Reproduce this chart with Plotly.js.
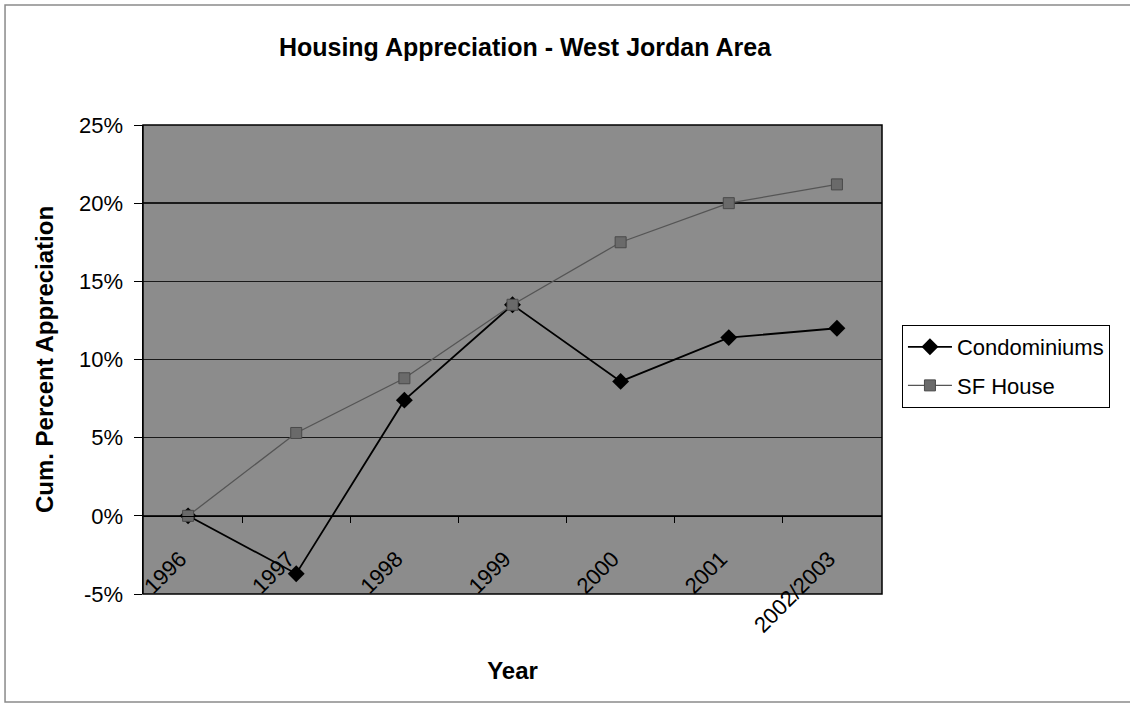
<!DOCTYPE html>
<html>
<head>
<meta charset="utf-8">
<script src="https://cdn.plot.ly/plotly-3.0.1.min.js"></script>
<style>html,body{margin:0;padding:0;background:#fff;}#chart{width:1130px;height:704px;}</style>
</head>
<body>
<div id="chart"></div>
<script>
const years = ['1996', '1997', '1998', '1999', '2000', '2001', '2002/2003'];
const condominiums = [0, -3.7, 7.4, 13.5, 8.6, 11.4, 12.0];
const sfHouse = [0, 5.3, 8.8, 13.5, 17.5, 20.0, 21.2];
const yTicks = [-5, 0, 5, 10, 15, 20, 25];

const FONT = '"Liberation Sans", Arial, sans-serif';

const traces = [
  {
    x: years, y: condominiums, name: 'Condominiums', type: 'scatter', mode: 'lines+markers',
    legendgroup: 'a',
    line: {color: '#000000', width: 1.8},
    marker: {symbol: 'diamond', size: 13, color: '#000000'}
  },
  {
    x: years, y: sfHouse, name: 'SF House', type: 'scatter', mode: 'lines+markers',
    legendgroup: 'b',
    line: {color: '#555555', width: 1.3},
    marker: {symbol: 'square', size: 11, color: '#6a6a6a', line: {color: '#4a4a4a', width: 1}}
  }
];

const layout = {
  width: 1130, height: 704,
  margin: {l: 143, r: 248, t: 125, b: 110},
  paper_bgcolor: '#ffffff',
  plot_bgcolor: '#8c8c8c',
  font: {family: FONT, color: '#000000'},
  title: {
    text: '<b>Housing Appreciation - West Jordan Area</b>',
    font: {family: FONT, size: 25, color: '#000000'},
    x: 0.4646, xanchor: 'center', y: 0.933, yanchor: 'middle'
  },
  xaxis: {
    type: 'category',
    anchor: 'free', position: 5 / 30,
    showline: true, linecolor: '#000000', linewidth: 1.5,
    showgrid: false, zeroline: false,
    ticks: 'outside', tickson: 'boundaries', ticklen: 6, tickcolor: '#000000', tickwidth: 1,
    tickangle: -45,
    tickfont: {family: FONT, size: 22, color: '#000000'},
    ticklabelstandoff: 20, ticklabelshift: -8,
    title: {text: '<b>Year</b>', font: {family: FONT, size: 24, color: '#000000'}, standoff: 25},
    fixedrange: true
  },
  yaxis: {
    range: [-5, 25], tickvals: yTicks, ticktext: yTicks.map(v => v + '%'),
    showline: true, linecolor: '#000000', linewidth: 1.5,
    showgrid: true, gridcolor: '#1a1a1a', gridwidth: 1.5,
    zeroline: false,
    ticks: 'outside', ticklen: 8, tickcolor: '#000000', tickwidth: 1,
    tickfont: {family: FONT, size: 22, color: '#000000'},
    ticklabelstandoff: 6,
    title: {text: '<b>Cum. Percent Appreciation</b>', font: {family: FONT, size: 24, color: '#000000'}, standoff: 18},
    fixedrange: true
  },
  legend: {
    x: 1.027, xanchor: 'left', y: 0.5736, yanchor: 'top',
    bgcolor: '#ffffff', bordercolor: '#000000', borderwidth: 1,
    font: {family: FONT, size: 22, color: '#000000'},
    itemwidth: 44,
    tracegroupgap: 7
  },
  shapes: [
    {type: 'rect', xref: 'paper', yref: 'paper', x0: 0, x1: 1, y0: 0, y1: 1,
     line: {color: '#000000', width: 1.5}, fillcolor: 'rgba(0,0,0,0)', layer: 'above'},
    {type: 'rect', xref: 'paper', yref: 'paper', x0: -0.1867, x1: 1.345, y0: -0.2303, y1: 1.256,
     line: {color: '#8a8a8a', width: 1.5}, fillcolor: 'rgba(0,0,0,0)', layer: 'below'}
  ],
  showlegend: true
};

Plotly.newPlot('chart', traces, layout, {displayModeBar: false, staticPlot: true});
</script>
</body>
</html>
